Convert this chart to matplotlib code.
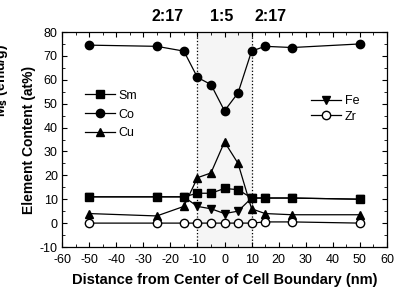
import numpy as np
import matplotlib
matplotlib.use("Agg")
import matplotlib.pyplot as plt
from matplotlib.ticker import MultipleLocator

plt.rcParams['font.family'] = ['Liberation Sans', 'DejaVu Sans']
plt.rcParams['axes.unicode_minus'] = False

# distance from cell boundary centre (nm)
dist = [-50, -25, -15, -10, -5, 0, 5, 10, 15, 25, 50]

sm = [11, 11, 11, 12.5, 12.5, 14.5, 14, 10.5, 10.5, 10.5, 10]
co = [74.5, 74, 72, 61, 58, 47, 54.5, 72, 74, 73.5, 75]
cu = [4, 3, 7, 19, 21, 34, 25, 6, 4, 3.5, 3.5]
fe = [11, 11, 11, 7, 6, 4, 5, 10.5, 10.5, 10.5, 10]
zr = [0, 0, 0, 0, 0, 0, 0, 0, 0.5, 0.5, 0]

phase_labels = ["2:17", "1:5", "2:17"]
phase_pos = [-21, -1, 17]

fig = plt.figure(figsize=(3.96, 2.92), dpi=100)
ax = fig.add_axes([62 / 396, 1 - 247 / 292, 325 / 396, 215 / 292])

ax.axvspan(-10, 10, color='0.96', zorder=0)
ax.axvline(-10, color='k', ls=':', lw=0.9)
ax.axvline(10, color='k', ls=':', lw=0.9)

kw = dict(color='k', lw=0.9, ms=6)
h_sm, = ax.plot(dist, sm, marker='s', label='Sm', **kw)
h_co, = ax.plot(dist, co, marker='o', label='Co', **kw)
h_cu, = ax.plot(dist, cu, marker='^', label='Cu', **kw)
h_fe, = ax.plot(dist, fe, marker='v', label='Fe', **kw)
h_zr, = ax.plot(dist, zr, marker='o', mfc='white', label='Zr', **kw)

ax.set_xlim(-60, 60)
ax.set_ylim(-10, 80)
ax.xaxis.set_major_locator(MultipleLocator(10))
ax.xaxis.set_minor_locator(MultipleLocator(5))
ax.yaxis.set_major_locator(MultipleLocator(10))
ax.yaxis.set_minor_locator(MultipleLocator(5))
ax.tick_params(which='both', direction='in', top=True, right=True, labelsize=9)
ax.tick_params(axis='x', pad=5)
ax.tick_params(axis='y', pad=3)
ax.tick_params(which='major', length=3.5)
ax.tick_params(which='minor', length=2)
for s in ax.spines.values():
    s.set_linewidth(0.9)

ax.set_xlabel("Distance from Center of Cell Boundary (nm)", fontsize=10.5, fontweight='bold', labelpad=5)
ax.set_ylabel("Element Content (at%)", fontsize=10, fontweight='bold', labelpad=3)

leg1 = ax.legend(handles=[h_sm, h_co, h_cu], loc='upper left', bbox_to_anchor=(0.055, 0.755),
                 frameon=False, fontsize=9, handlelength=2.4, handletextpad=0.3,
                 labelspacing=0.55, borderaxespad=0)
ax.add_artist(leg1)
ax.legend(handles=[h_fe, h_zr], loc='upper left', bbox_to_anchor=(0.75, 0.73),
          frameon=False, fontsize=9, handlelength=2.4, handletextpad=0.3,
          labelspacing=0.3, borderaxespad=0)

for lab, xp in zip(phase_labels, phase_pos):
    ax.text(xp, 1.035, lab, transform=ax.get_xaxis_transform(), ha='center', va='bottom',
            fontsize=11.5, fontweight='bold')

# second axis label, cut off at the figure edge as in the source
fig.text(1 / 396, 1 - 80 / 292, "M$_\\mathbf{s}$ (emu/g)", rotation=90, ha='center', va='center',
         fontsize=10, fontweight='bold')

fig.savefig("out.png", dpi=100)
